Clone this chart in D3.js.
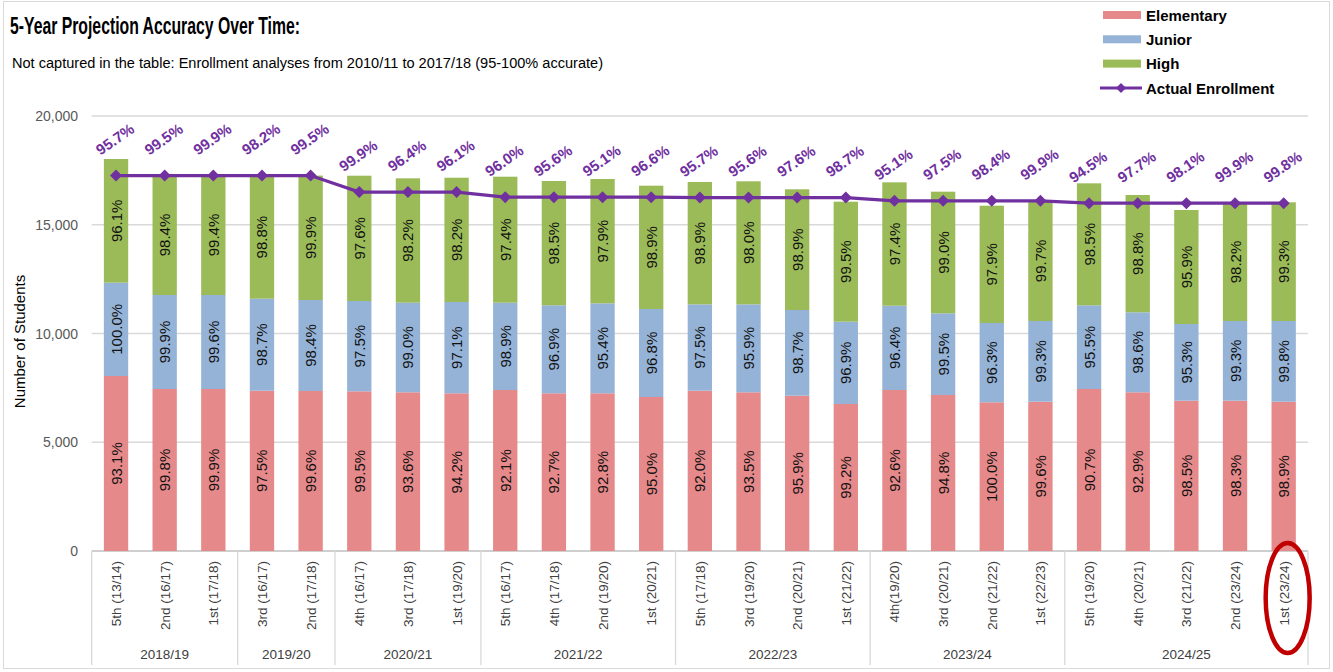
<html>
    <meta charset = "utf-8">
    <style>
    body {
      margin: 0;
      background: white;
    }
    text {
      font-family: "Liberation Sans", Arial, sans-serif;
    }
    </style>

    <body>
        <script src="https://d3js.org/d3.v7.min.js"></script>
        <script>

            // projection rounds (bottom labels) and the school year they belong to
            var categories = ["5th (13/14)", "2nd (16/17)", "1st (17/18)",
                              "3rd (16/17)", "2nd (17/18)",
                              "4th (16/17)", "3rd (17/18)", "1st (19/20)",
                              "5th (16/17)", "4th (17/18)", "2nd (19/20)", "1st (20/21)",
                              "5th (17/18)", "3rd (19/20)", "2nd (20/21)", "1st (21/22)",
                              "4th(19/20)", "3rd (20/21)", "2nd (21/22)", "1st (22/23)",
                              "5th (19/20)", "4th (20/21)", "3rd (21/22)", "2nd (23/24)", "1st (23/24)"];
            var groupNames = ["2018/19", "2019/20", "2020/21", "2021/22", "2022/23", "2023/24", "2024/25"];
            var groupSizes = [3, 2, 3, 4, 4, 4, 5];

            // projected students per level
            var elementary = [8046, 7448, 7448, 7370, 7356, 7342, 7297, 7251, 7402, 7251, 7251, 7080, 7370,
                              7297, 7140, 6759, 7402, 7172, 6837, 6864, 7448, 7297, 6910, 6910, 6864];
            var junior     = [4290, 4322, 4322, 4230, 4184, 4152, 4119, 4197, 4014, 4046, 4137, 4046, 3972,
                              4045, 3940, 3784, 3876, 3757, 3646, 3711, 3849, 3678, 3527, 3665, 3711];
            var high       = [5687, 5520, 5520, 5660, 5720, 5761, 5718, 5715, 5793, 5714, 5715, 5670, 5624,
                              5656, 5550, 5517, 5672, 5591, 5393, 5525, 5608, 5393, 5241, 5425, 5457];

            // actual enrollment for the year of each bar
            var actual = [17260, 17260, 17260, 17260, 17260, 16500, 16500, 16500, 16270, 16270, 16270, 16270,
                          16250, 16250, 16250, 16250, 16100, 16100, 16100, 16100, 15990, 15990, 15990, 15990, 15990];

            // accuracy labels
            var elemPct   = [93.1, 99.8, 99.9, 97.5, 99.6, 99.5, 93.6, 94.2, 92.1, 92.7, 92.8, 95.0, 92.0,
                             93.5, 95.9, 99.2, 92.6, 94.8, 100.0, 99.6, 90.7, 92.9, 98.5, 98.3, 98.9];
            var juniorPct = [100.0, 99.9, 99.6, 98.7, 98.4, 97.5, 99.0, 97.1, 98.9, 96.9, 95.4, 96.8, 97.5,
                             95.9, 98.7, 96.9, 96.4, 99.5, 96.3, 99.3, 95.5, 98.6, 95.3, 99.3, 99.8];
            var highPct   = [96.1, 98.4, 99.4, 98.8, 99.9, 97.6, 98.2, 98.2, 97.4, 98.5, 97.9, 98.9, 98.9,
                             98.0, 98.9, 99.5, 97.4, 99.0, 97.9, 99.7, 98.5, 98.8, 95.9, 98.2, 99.3];
            var totalPct  = [95.7, 99.5, 99.9, 98.2, 99.5, 99.9, 96.4, 96.1, 96.0, 95.6, 95.1, 96.6, 95.7,
                             95.6, 97.6, 98.7, 95.1, 97.5, 98.4, 99.9, 94.5, 97.7, 98.1, 99.9, 99.8];

            var yTicks = [0, 5000, 10000, 15000, 20000];

            var levels = ["Elementary", "Junior", "High"];
            var colors = {"Elementary": "#E6898A", "Junior": "#95B3D7", "High": "#9BBB59"};
            var purple = "#7030A0";

            var W = 1333, H = 672;
            var plotLeft = 91.7, plotRight = 1308, plotTop = 116, plotBottom = 551;

            var svg = d3.select("body").append("svg")
                .attr("width", W)
                .attr("height", H);

            // outer frame
            svg.append("rect")
              .attr("x", 3.5).attr("y", 1.5)
              .attr("width", W - 7).attr("height", H - 5)
              .attr("fill", "white")
              .attr("stroke", "#d9d9d9");

            var xScale = d3.scaleBand().domain(d3.range(categories.length))
                .range([plotLeft, plotRight]).paddingInner(0.5).paddingOuter(0.25);
            var yScale = d3.scaleLinear().domain([0, 20000]).range([plotBottom, plotTop]);
            var bw = xScale.bandwidth();
            function cx(i) { return xScale(i) + bw / 2; }

            // title
            svg.append("text")
              .attr("x", 10).attr("y", 34)
              .attr("textLength", 290).attr("lengthAdjust", "spacingAndGlyphs")
              .style("font-size", "23px").style("font-weight", "bold")
              .text("5-Year Projection Accuracy Over Time:");
            svg.append("text")
              .attr("x", 12).attr("y", 68)
              .attr("textLength", 591).attr("lengthAdjust", "spacingAndGlyphs")
              .style("font-size", "14px")
              .text("Not captured in the table: Enrollment analyses from 2010/11 to 2017/18 (95-100% accurate)");

            // gridlines and y labels
            svg.selectAll(".grid")
              .data(yTicks).enter()
              .append("line")
              .attr("x1", plotLeft).attr("x2", plotRight)
              .attr("y1", function(d) { return yScale(d); })
              .attr("y2", function(d) { return yScale(d); })
              .attr("stroke", function(d) { return d == 0 ? "#bfbfbf" : "#d9d9d9"; })
              .attr("stroke-width", 1.3);
            svg.selectAll(".ylab")
              .data(yTicks).enter()
              .append("text")
              .attr("x", 78)
              .attr("y", function(d) { return yScale(d) + 5; })
              .style("text-anchor", "end")
              .style("font-size", "14px")
              .style("fill", "#595959")
              .text(function(d) { return d3.format(",")(d); });

            svg.append("text")
              .attr("transform", "translate(25," + ((plotTop + plotBottom) / 2 + 8) + ") rotate(-90)")
              .style("text-anchor", "middle")
              .style("font-size", "15px")
              .text("Number of Students");

            // stacked bars
            var rows = categories.map(function(c, i) {
                return {Elementary: elementary[i], Junior: junior[i], High: high[i]};
            });
            var pcts = {Elementary: elemPct, Junior: juniorPct, High: highPct};
            var series = d3.stack().keys(levels)(rows);

            var layer = svg.selectAll(".layer")
              .data(series).enter()
              .append("g")
              .attr("fill", function(d) { return colors[d.key]; });

            layer.selectAll("rect")
              .data(function(d) { return d; })
              .enter()
              .append("rect")
              .attr("x", function(d, i) { return xScale(i); })
              .attr("width", bw)
              .attr("y", function(d) { return yScale(d[1]); })
              .attr("height", function(d) { return yScale(d[0]) - yScale(d[1]); });

            series.forEach(function(s) {
                svg.selectAll(".lab-" + s.key)
                  .data(s).enter()
                  .append("text")
                  .attr("transform", function(d, i) {
                      var cy = (yScale(d[0]) + yScale(d[1])) / 2;
                      return "translate(" + (cx(i) + 5.5) + "," + cy + ") rotate(-90)";
                  })
                  .style("text-anchor", "middle")
                  .style("font-size", "15px")
                  .style("fill", "#111")
                  .text(function(d, i) { return pcts[s.key][i].toFixed(1) + "%"; });
            });

            // actual enrollment line
            var line = d3.line()
              .x(function(d, i) { return cx(i); })
              .y(function(d) { return yScale(d); });

            svg.append("path")
              .datum(actual)
              .attr("d", line)
              .attr("fill", "none")
              .attr("stroke", purple)
              .attr("stroke-width", 3.2);

            svg.selectAll(".dot")
              .data(actual).enter()
              .append("path")
              .attr("d", d3.symbol(d3.symbolSquare, 72))
              .attr("transform", function(d, i) {
                  return "translate(" + cx(i) + "," + yScale(d) + ") rotate(45)";
              })
              .attr("fill", purple);

            svg.selectAll(".total")
              .data(actual).enter()
              .append("text")
              .attr("transform", function(d, i) {
                  return "translate(" + (cx(i) + 2) + "," + (yScale(d) - 32) + ") rotate(-35)";
              })
              .style("text-anchor", "middle")
              .style("font-size", "15px")
              .style("font-weight", "bold")
              .style("fill", purple)
              .text(function(d, i) { return totalPct[i].toFixed(1) + "%"; });

            // category axis
            svg.selectAll(".cat")
              .data(categories).enter()
              .append("text")
              .attr("transform", function(d, i) {
                  return "translate(" + (cx(i) + 5) + ",561) rotate(-90)";
              })
              .style("text-anchor", "end")
              .style("font-size", "13.5px")
              .style("fill", "#404040")
              .text(function(d) { return d; });

            var step = xScale.step();
            var start = 0;
            var bounds = [plotLeft];
            groupNames.forEach(function(g, k) {
                var x0 = plotLeft + start * step;
                start += groupSizes[k];
                var x1 = k == groupNames.length - 1 ? plotRight : plotLeft + start * step;
                bounds.push(x1);
                svg.append("text")
                  .attr("x", (x0 + x1) / 2).attr("y", 659)
                  .style("text-anchor", "middle")
                  .style("font-size", "13.5px")
                  .style("fill", "#404040")
                  .text(g);
            });
            svg.selectAll(".sep")
              .data(bounds).enter()
              .append("line")
              .attr("x1", function(d) { return d; })
              .attr("x2", function(d) { return d; })
              .attr("y1", plotBottom).attr("y2", 665)
              .attr("stroke", "#d9d9d9")
              .attr("stroke-width", 1.3);

            // red ellipse around the latest projection
            var last = categories.length - 1;
            svg.append("ellipse")
              .attr("cx", cx(last) + 4)
              .attr("cy", 598)
              .attr("rx", 22).attr("ry", 55)
              .attr("fill", "none")
              .attr("stroke", "#C00000")
              .attr("stroke-width", 4.5);

            // legend
            var legend = svg.append("g");
            levels.forEach(function(l, k) {
                legend.append("rect")
                  .attr("x", 1103).attr("y", 11 + k * 24.3)
                  .attr("width", 38).attr("height", 8)
                  .attr("fill", colors[l]);
                legend.append("text")
                  .attr("x", 1146).attr("y", 20.5 + k * 24.3)
                  .style("font-size", "15px").style("font-weight", "bold")
                  .text(l);
            });
            legend.append("line")
              .attr("x1", 1100).attr("x2", 1142)
              .attr("y1", 88).attr("y2", 88)
              .attr("stroke", purple).attr("stroke-width", 3.2);
            legend.append("path")
              .attr("d", d3.symbol(d3.symbolSquare, 50))
              .attr("transform", "translate(1121,88) rotate(45)")
              .attr("fill", purple);
            legend.append("text")
              .attr("x", 1146).attr("y", 93.5)
              .style("font-size", "15px").style("font-weight", "bold")
              .text("Actual Enrollment");

        </script>
    </body>
</html>
